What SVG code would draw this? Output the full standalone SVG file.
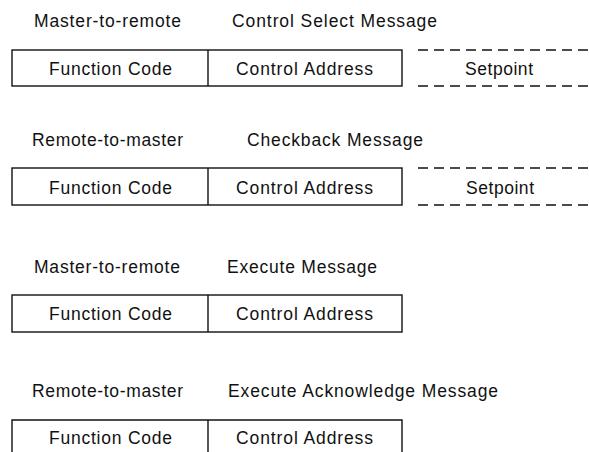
<svg xmlns="http://www.w3.org/2000/svg" width="589" height="452" viewBox="0 0 589 452">
<style>
text{font-family:"Liberation Sans",Arial,sans-serif;font-size:17.5px;fill:#111}
.box{fill:none;stroke:#111;stroke-width:1.4}
.dash{fill:none;stroke:#111;stroke-width:1.4;stroke-dasharray:10 6}
</style>
<rect width="589" height="452" fill="#fff"/>
<g id="title1">
<text x="34" y="27" textLength="147" lengthAdjust="spacing">Master-to-remote</text>
<text x="232" y="27" textLength="205" lengthAdjust="spacing">Control Select Message</text>
</g>
<g id="msg1">
<rect class="box" x="12" y="50" width="390" height="36"/>
<line class="box" x1="208" y1="50" x2="208" y2="86"/>
<path class="dash" d="M418 50H589M418 86H589"/>
<text x="49" y="75" textLength="123" lengthAdjust="spacing">Function Code</text>
<text x="236" y="75" textLength="137" lengthAdjust="spacing">Control Address</text>
<text x="465" y="75" textLength="68" lengthAdjust="spacing">Setpoint</text>
</g>
<g id="title2">
<text x="32" y="146" textLength="151" lengthAdjust="spacing">Remote-to-master</text>
<text x="247" y="146" textLength="176" lengthAdjust="spacing">Checkback Message</text>
</g>
<g id="msg2">
<rect class="box" x="12" y="168" width="390" height="37"/>
<line class="box" x1="208" y1="168" x2="208" y2="205"/>
<path class="dash" d="M418 168H589M418 205H589"/>
<text x="49" y="194" textLength="123" lengthAdjust="spacing">Function Code</text>
<text x="236" y="194" textLength="137" lengthAdjust="spacing">Control Address</text>
<text x="466" y="194" textLength="68" lengthAdjust="spacing">Setpoint</text>
</g>
<g id="title3">
<text x="34" y="273" textLength="146" lengthAdjust="spacing">Master-to-remote</text>
<text x="227" y="273" textLength="150" lengthAdjust="spacing">Execute Message</text>
</g>
<g id="msg3">
<rect class="box" x="12" y="295" width="390" height="37"/>
<line class="box" x1="208" y1="295" x2="208" y2="332"/>
<text x="49" y="320" textLength="123" lengthAdjust="spacing">Function Code</text>
<text x="236" y="320" textLength="137" lengthAdjust="spacing">Control Address</text>
</g>
<g id="title4">
<text x="32" y="397" textLength="151" lengthAdjust="spacing">Remote-to-master</text>
<text x="228" y="397" textLength="270" lengthAdjust="spacing">Execute Acknowledge Message</text>
</g>
<g id="msg4">
<path class="box" d="M12 460V420H402V460"/>
<line class="box" x1="208" y1="420" x2="208" y2="460"/>
<text x="49" y="444" textLength="123" lengthAdjust="spacing">Function Code</text>
<text x="236" y="444" textLength="137" lengthAdjust="spacing">Control Address</text>
</g>
<g id="connectors"/>
</svg>
